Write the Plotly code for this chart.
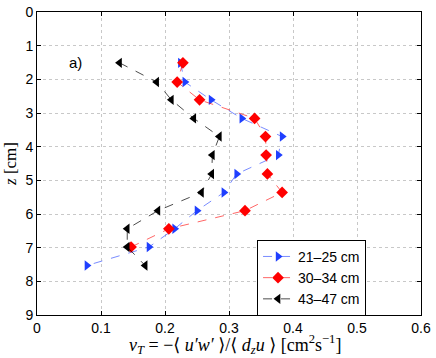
import plotly.graph_objects as go

# depth levels (cm)
z_levels = [1.51, 2.08, 2.61, 3.16, 3.70, 4.25, 4.81, 5.36, 5.90, 6.44, 6.98, 7.53]

nu_21_25 = [0.224, 0.231, 0.272, 0.320, 0.383, 0.377, 0.312, 0.292, 0.250, 0.215, 0.175, 0.078]
nu_30_34 = [0.228, 0.219, 0.254, 0.340, 0.357, 0.358, 0.360, 0.383, 0.325, 0.206, 0.147]
nu_43_47 = [0.129, 0.187, 0.210, 0.245, 0.285, 0.274, 0.273, 0.257, 0.189, 0.141, 0.141, 0.169]

x_ticks = [0, 0.1, 0.2, 0.3, 0.4, 0.5, 0.6]
x_tick_labels = ["0", "0.1", "0.2", "0.3", "0.4", "0.5", "0.6"]

series = [
    ("21\u201325 cm", nu_21_25, "#1f3fff", "rgba(31,63,255,0.6)", "triangle-right"),
    ("30\u201334 cm", nu_30_34, "#ff0000", "rgba(255,0,0,0.6)", "diamond"),
    ("43\u201347 cm", nu_43_47, "#000000", "rgba(0,0,0,0.7)", "triangle-left"),
]

fig = go.Figure()
for name, vals, mcol, lcol, sym in series:
    fig.add_trace(go.Scatter(
        x=vals, y=z_levels[:len(vals)], name=name, mode="lines+markers",
        line=dict(color=lcol, width=1, dash="dash"),
        marker=dict(color=mcol, symbol=sym, size=9, line=dict(width=0)),
    ))

fig.add_annotation(x=0.06, y=1.5, text="a)", showarrow=False,
                   font=dict(size=15, color="black"))

serif = "Liberation Serif, DejaVu Serif, serif"
sp = "\u00a0"
xlabel = (f"<i>\u03bd<sub>T</sub></i> = \u2212\u27e8{sp}<i>u\u2032w\u2032</i>{sp}\u27e9/"
          f"\u27e8{sp}<i>d<sub>z</sub>u</i>{sp}\u27e9 [cm<sup>2</sup>s<sup>\u22121</sup>]")
fig.add_annotation(
    xref="paper", yref="paper", x=0.515, y=-0.05, xanchor="center", yanchor="top",
    showarrow=False, text=xlabel,
    font=dict(family=serif, size=18, color="black"),
)

axis_common = dict(
    showline=True, linecolor="black", linewidth=1, mirror="ticks",
    ticks="inside", ticklen=4, tickcolor="black",
    showgrid=True, gridcolor="#c8c8c8", griddash="dot", gridwidth=1,
    zeroline=False, automargin=False,
    tickfont=dict(size=14, color="black", family="Liberation Sans, Arial, sans-serif"),
)

fig.update_layout(
    width=436, height=358,
    paper_bgcolor="white", plot_bgcolor="white",
    margin=dict(l=37, r=15, t=12, b=43),
    font=dict(family="Liberation Sans, Arial, sans-serif", color="black"),
    xaxis=dict(range=[0, 0.6], tickvals=x_ticks, ticktext=x_tick_labels, **axis_common),
    yaxis=dict(range=[9, 0], dtick=1,
               title=dict(text="<i>z</i> [cm]", font=dict(family=serif, size=17),
                          standoff=4),
               **axis_common),
    legend=dict(x=0.573, y=0.248, xanchor="left", yanchor="top",
                bgcolor="white", bordercolor="black", borderwidth=1,
                font=dict(size=14), tracegroupgap=0),
    showlegend=True,
)

# the page body has a default 8px margin; drop it so the figure fills the window
fig.write_html("out.html", config={"displayModeBar": False},
               post_script="document.body.style.margin='0px';")
